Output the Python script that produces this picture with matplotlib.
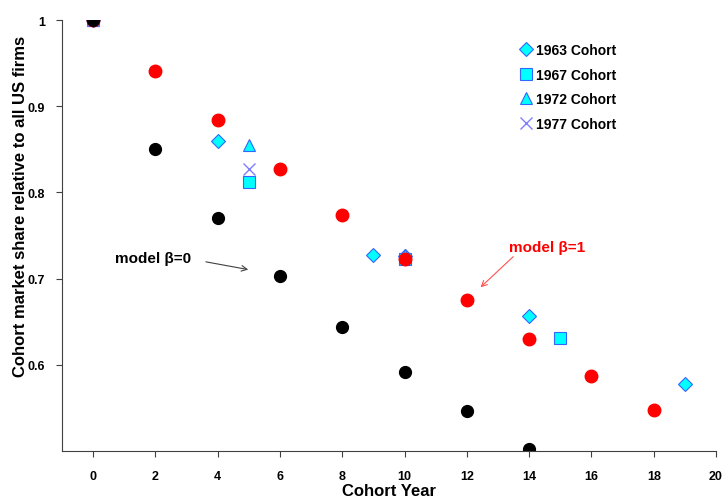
import matplotlib.pyplot as plt

plt.rcParams['font.family'] = ['Liberation Sans', 'DejaVu Sans']
plt.rcParams['font.weight'] = 'bold'

# модельные точки
model_x = [0, 2, 4, 6, 8, 10, 12, 14]
beta0_y = [1.0, 0.85, 0.77, 0.703, 0.644, 0.592, 0.546, 0.502]
beta1_x = [0, 2, 4, 6, 8, 10, 12, 14, 16, 18]
beta1_y = [1.0, 0.941, 0.884, 0.827, 0.774, 0.723, 0.675, 0.630, 0.587, 0.547]

# данные по когортам
c1963_x = [0, 4, 9, 10, 14, 19]
c1963_y = [1.0, 0.860, 0.728, 0.726, 0.657, 0.578]
c1967_x = [0, 5, 10, 15]
c1967_y = [1.0, 0.812, 0.723, 0.631]
c1972_x = [0, 5, 10]
c1972_y = [1.0, 0.855, 0.728]
c1977_x = [0, 5]
c1977_y = [1.0, 0.827]

xticks = [0, 2, 4, 6, 8, 10, 12, 14, 16, 18, 20]
yticks = [0.6, 0.7, 0.8, 0.9, 1.0]
ytick_labels = ['0.6', '0.7', '0.8', '0.9', '1']

fig = plt.figure(figsize=(7.26, 5.02), dpi=100)
ax = fig.add_axes([0.0854, 0.0996, 0.9008, 0.8584])

cyan = '#00ffff'
edge = '#3366ff'
ax.plot(c1963_x, c1963_y, 'D', ms=7, mfc=cyan, mec=edge, mew=0.8, ls='none', label='1963 Cohort')
ax.plot(c1967_x, c1967_y, 's', ms=8.5, mfc=cyan, mec=edge, mew=0.8, ls='none', label='1967 Cohort')
ax.plot(c1972_x, c1972_y, '^', ms=8.5, mfc=cyan, mec=edge, mew=0.8, ls='none', label='1972 Cohort')
ax.plot(c1977_x, c1977_y, 'x', ms=8, mec='#8080ff', mew=1.0, ls='none', label='1977 Cohort')

ax.plot(beta1_x, beta1_y, 'o', ms=9, color='#ff0000', ls='none')
ax.plot(model_x, beta0_y, 'o', ms=8.5, color='black', ls='none')

ax.set_xlim(-1, 20)
ax.set_ylim(0.5, 1.0)
ax.set_xticks(xticks)
ax.set_yticks(yticks)
ax.set_yticklabels(ytick_labels)
ax.tick_params(labelsize=9, length=4, color='#404040')
ax.tick_params(axis='x', pad=10)
ax.tick_params(axis='y', pad=8)
for lab in ax.get_xticklabels() + ax.get_yticklabels():
    lab.set_fontweight('bold')
ax.spines['top'].set_visible(False)
ax.spines['right'].set_visible(False)
ax.spines['left'].set_color('#404040')
ax.spines['bottom'].set_color('#404040')

ax.set_xlabel('Cohort Year', fontsize=12, fontweight='bold')
ax.set_ylabel('Cohort market share relative to all US firms', fontsize=12,
              fontweight='bold')
ax.xaxis.set_label_coords(0.5, -0.074)
ax.yaxis.set_label_coords(-0.052, 0.57)

# подписи моделей и стрелки
ax.text(1.93, 0.724, 'model β=0', fontsize=11, fontweight='bold', color='black',
        ha='center', va='center')
ax.annotate('', xy=(4.98, 0.7105), xytext=(3.62, 0.7195),
            arrowprops=dict(arrowstyle='->', color='#404040', lw=0.8, shrinkA=0, shrinkB=0))
ax.text(14.57, 0.7365, 'model β=1', fontsize=11, fontweight='bold', color='#ff0000',
        ha='center', va='center')
ax.annotate('', xy=(12.44, 0.690), xytext=(13.49, 0.7255),
            arrowprops=dict(arrowstyle='->', color='#ff5050', lw=0.8, shrinkA=0, shrinkB=0))

ax.legend(loc='upper left', bbox_to_anchor=(0.68, 0.975), frameon=False,
          handletextpad=0.2, handlelength=1.0, labelspacing=0.75,
          prop={'weight': 'bold', 'size': 10})

fig.savefig('out.png', dpi=100)
